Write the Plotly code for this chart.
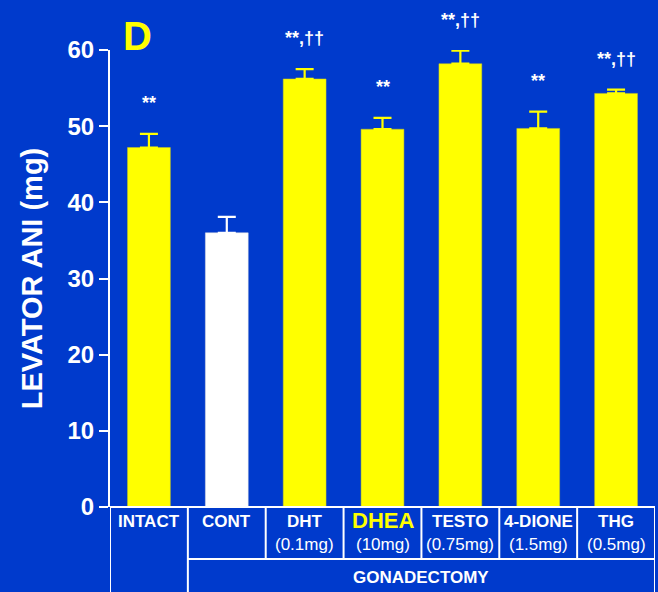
import plotly.graph_objects as go

groups = ["INTACT", "CONT", "DHT", "DHEA", "TESTO", "4-DIONE", "THG"]
doses = ["", "", "(0.1mg)", "(10mg)", "(0.75mg)", "(1.5mg)", "(0.5mg)"]
values = [47.2, 36.0, 56.2, 49.6, 58.2, 49.7, 54.3]
errors = [1.8, 2.1, 1.3, 1.5, 1.7, 2.2, 0.5]
signif = ["**", "", "**,††", "**", "**,††", "**", "**,††"]
yticks = [0, 10, 20, 30, 40, 50, 60]
group_label = "GONADECTOMY"

BG = "#003ACC"
YEL = "#FFFF00"
WHITE = "#FFFFFF"
FONT = "Liberation Sans, Arial, sans-serif"

x = list(range(len(groups)))
colors = [WHITE if g == "CONT" else YEL for g in groups]

fig = go.Figure()
for i in x:
    fig.add_trace(go.Bar(
        x=[i], y=[values[i]], width=0.55,
        marker=dict(color=colors[i], line=dict(color="#C8C820" if colors[i] == YEL else "#DDDDDD", width=0.5)),
        error_y=dict(type="data", symmetric=False, array=[errors[i]], arrayminus=[0],
                     color=colors[i], thickness=2.2, width=9),
        showlegend=False, hoverinfo="skip",
    ))

annotations = []
for i in x:
    if signif[i]:
        annotations.append(dict(x=i, y=values[i] + errors[i], xref="x", yref="y",
                                text="<b>" + signif[i] + "</b>", showarrow=False, yshift=31,
                                font=dict(family=FONT, size=18, color=WHITE)))
    if groups[i] == "DHEA":
        annotations.append(dict(x=i, y=-0.029, xref="x", yref="paper", text="<b>" + groups[i] + "</b>",
                                showarrow=False, yanchor="middle",
                                font=dict(family=FONT, size=22, color=YEL)))
    else:
        annotations.append(dict(x=i, y=-0.031, xref="x", yref="paper", text="<b>" + groups[i] + "</b>",
                                showarrow=False, yanchor="middle",
                                font=dict(family=FONT, size=17, color=WHITE)))
    if doses[i]:
        annotations.append(dict(x=i, y=-0.081, xref="x", yref="paper", text=doses[i],
                                showarrow=False, yanchor="middle",
                                font=dict(family=FONT, size=17, color=WHITE)))

annotations.append(dict(x=3.5, y=-0.155, xref="x", yref="paper", text="<b>" + group_label + "</b>",
                        showarrow=False, yanchor="middle",
                        font=dict(family=FONT, size=17, color=WHITE)))
annotations.append(dict(x=-0.15, y=1.0, xref="x", yref="paper", text="<b>D</b>",
                        showarrow=False, yanchor="bottom", yshift=-10,
                        font=dict(family=FONT, size=40, color=YEL)))

shapes = []
line = dict(color=WHITE, width=2)
row1 = -0.1138
bottom = -0.2
for k in range(len(groups) + 1):
    xe = k - 0.5
    y1 = bottom if k in (0, 1, len(groups)) else row1
    shapes.append(dict(type="line", xref="x", yref="paper", x0=xe, x1=xe, y0=0, y1=y1, line=line))
shapes.append(dict(type="line", xref="x", yref="paper", x0=0.5, x1=len(groups) - 0.5,
                   y0=row1, y1=row1, line=line))
shapes.append(dict(type="line", xref="x", yref="paper", x0=-0.5, x1=len(groups) - 0.5,
                   y0=0, y1=0, line=line))

fig.update_layout(
    width=658, height=592,
    margin=dict(l=110, r=3, t=50, b=85),
    paper_bgcolor=BG, plot_bgcolor=BG,
    annotations=annotations, shapes=shapes,
    xaxis=dict(range=[-0.5, len(groups) - 0.5], showticklabels=False, showgrid=False,
               zeroline=False, showline=False, ticks=""),
    yaxis=dict(range=[0, 60], tickvals=yticks, showgrid=False, zeroline=False,
               showline=True, linecolor=WHITE, linewidth=2,
               ticks="outside", ticklen=9, tickwidth=2, tickcolor=WHITE,
               tickfont=dict(family=FONT, size=24, color=WHITE, weight="bold"),
               title=dict(text="<b>LEVATOR ANI (mg)</b>", standoff=16,
                          font=dict(family=FONT, size=29, color=WHITE))),
)

fig.write_html("out.html", config={"displayModeBar": False},
               post_script="document.body.style.margin='0';document.body.style.background='" + BG + "';")
